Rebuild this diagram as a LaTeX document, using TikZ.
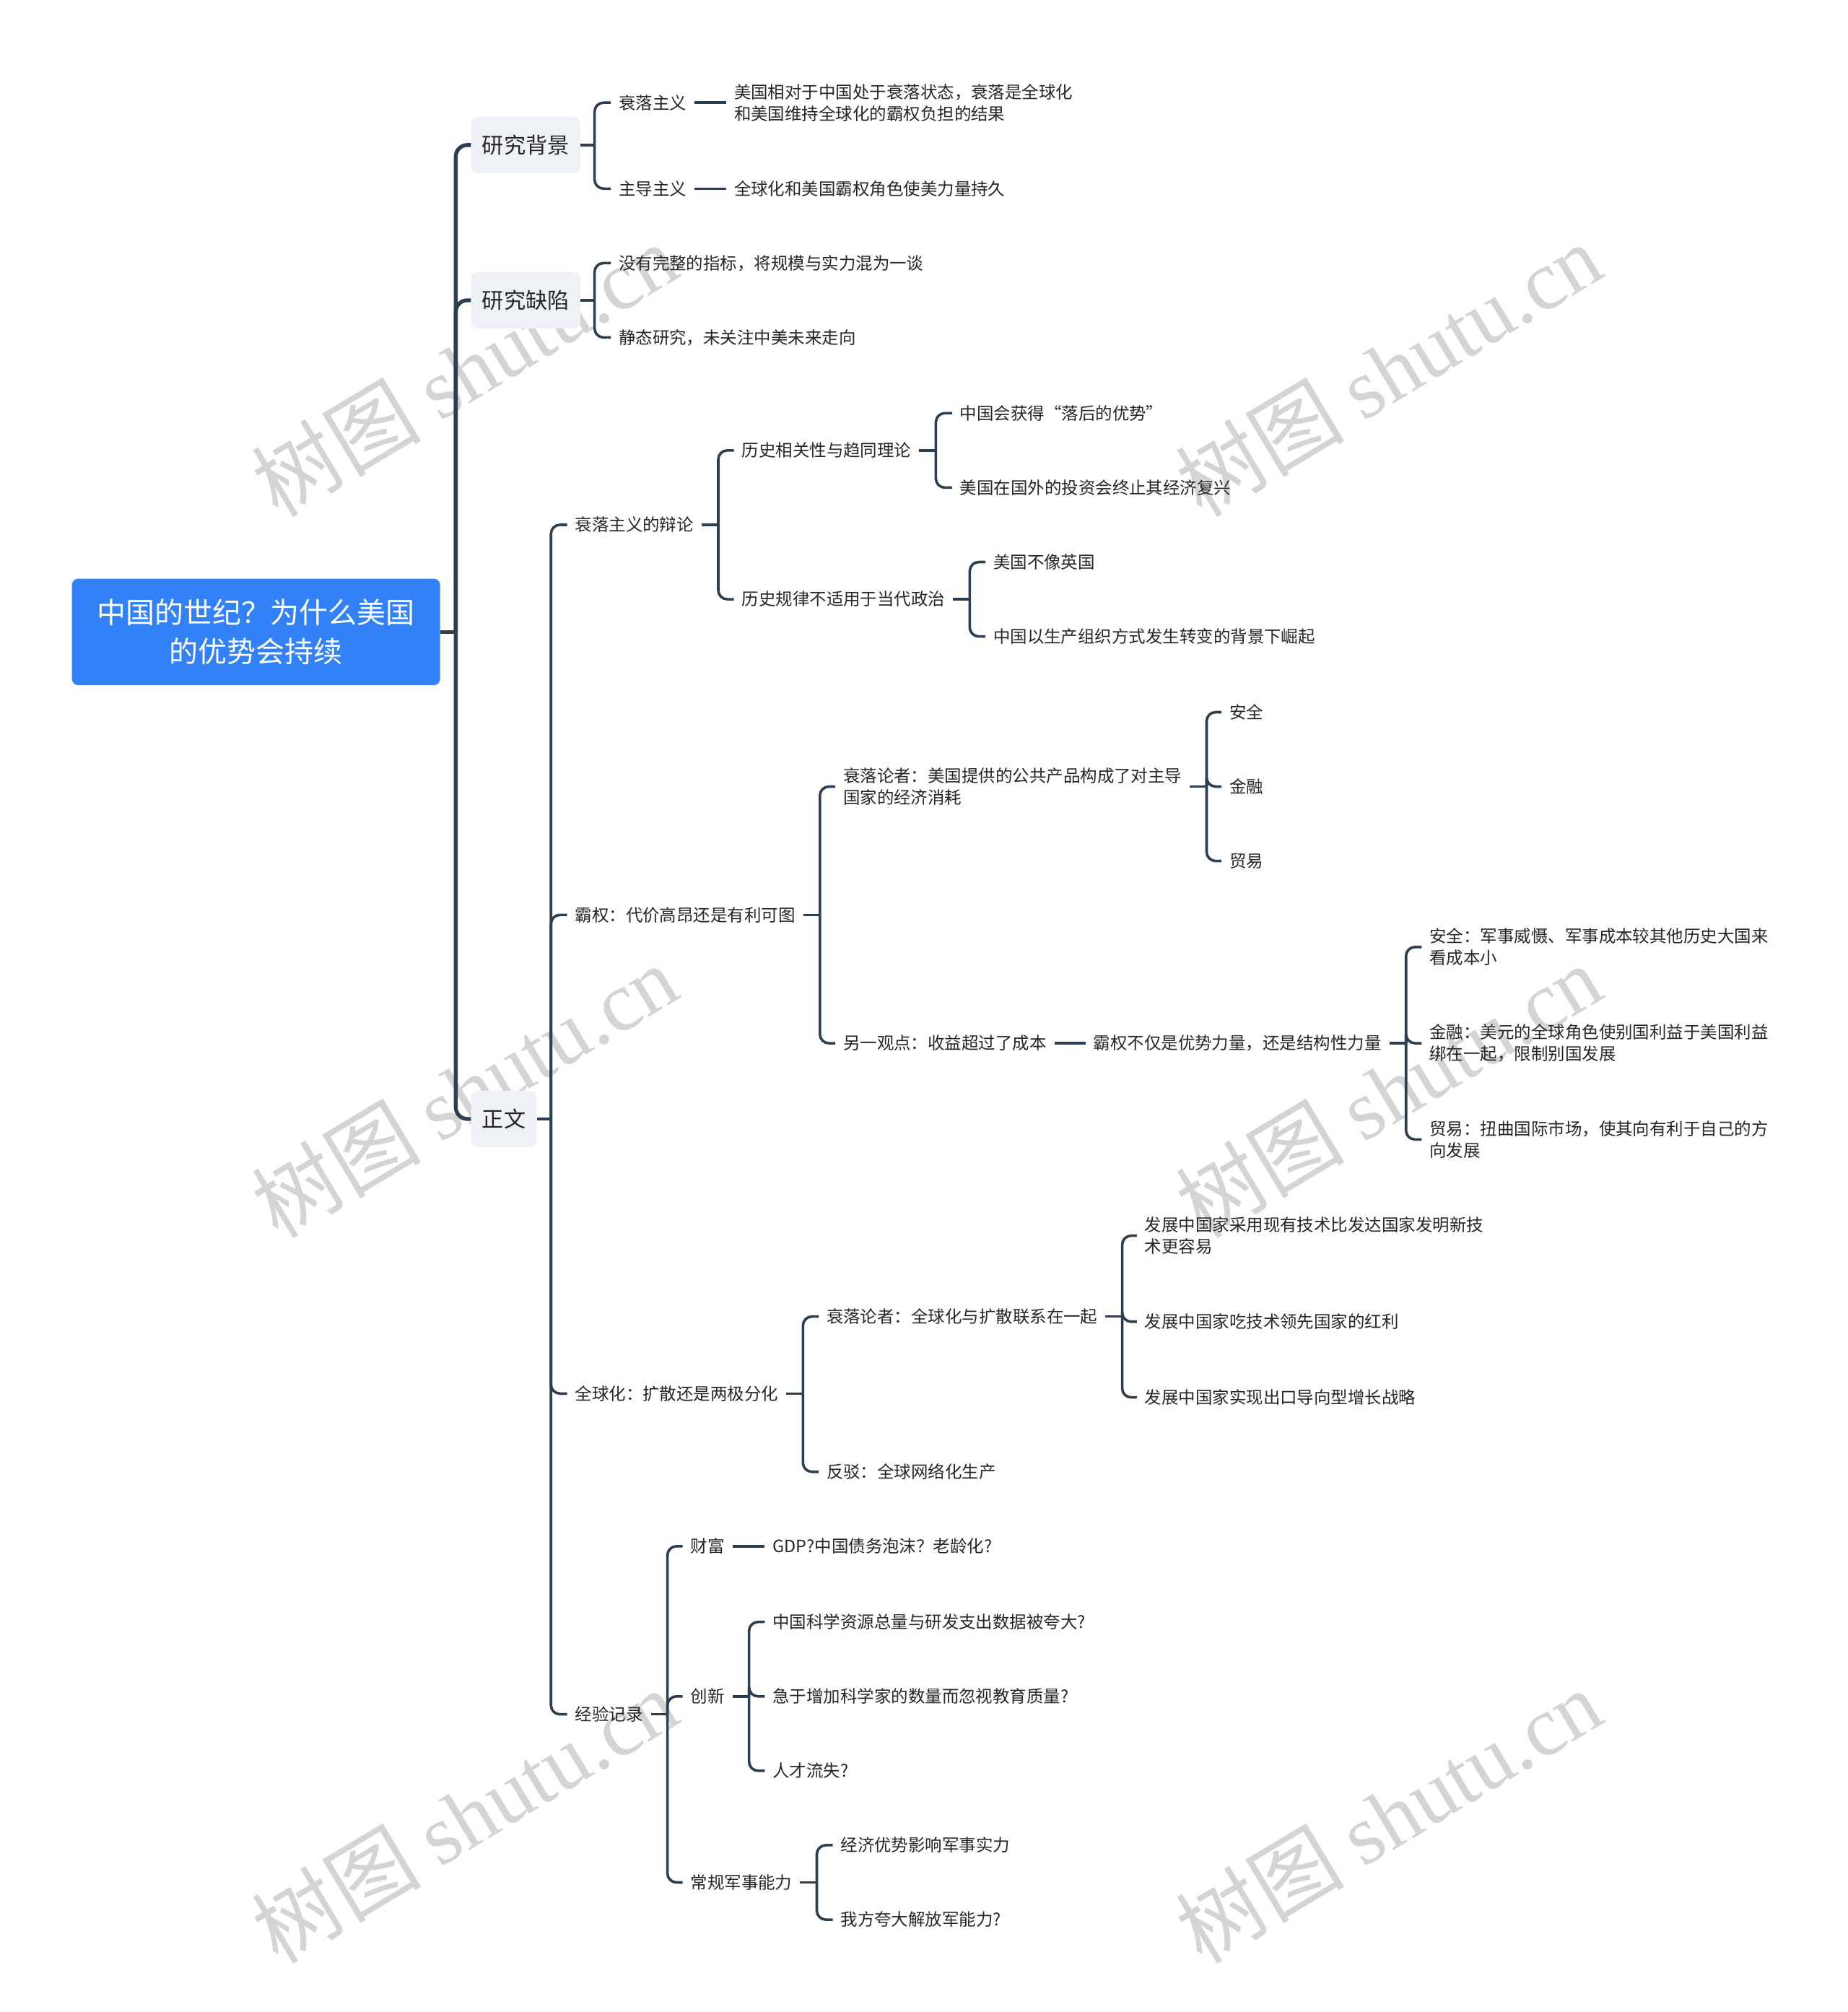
\documentclass[tikz,border=0pt]{standalone}
\usepackage{fontspec}
\setmainfont{Noto Sans CJK SC}
\newfontfamily\wmlatin{Liberation Serif}
\definecolor{linec}{HTML}{2C3E50}
\definecolor{rootblue}{HTML}{3381F6}
\definecolor{lvlgray}{HTML}{EEF1F5}
\definecolor{wmc}{HTML}{D4D4D4}
\begin{document}
\begin{tikzpicture}[x=1pt,y=-1pt,
  t/.style={anchor=west, inner xsep=6pt, inner ysep=1pt, font=\fontsize{13.2}{17}\selectfont, align=left, text=black!85},
  lone/.style={fill=lvlgray, rounded corners=5pt, inner xsep=8.5pt, minimum height=44pt, font=\fontsize{17}{20}\selectfont, text=black!85, anchor=west},
  conn/.style={draw=linec, line width=2pt, rounded corners=7pt},
  trunk/.style={draw=linec, line width=3pt, rounded corners=9pt},
  wmk/.style={text=wmc, rotate=31, font=\fontsize{66}{70}\selectfont}]
\useasboundingbox (0,0) rectangle (1440,1568);
\fill[white] (0,0) rectangle (1440,1568);

% watermarks
\node[wmk] (w1) at (362,288) {树图 {\wmlatin shutu.cn}};
\node[wmk] (w2) at (1082,288) {树图 {\wmlatin shutu.cn}};
\node[wmk] (w3) at (362,850) {树图 {\wmlatin shutu.cn}};
\node[wmk] (w4) at (1082,850) {树图 {\wmlatin shutu.cn}};
\node[wmk] (w5) at (362,1415) {树图 {\wmlatin shutu.cn}};
\node[wmk] (w6) at (1082,1415) {树图 {\wmlatin shutu.cn}};

% root
\node[fill=rootblue, rounded corners=5pt, minimum width=287pt, minimum height=83pt, align=center, text=white, font=\fontsize{22.5}{30}\selectfont] (root) at (199.5,492.5) {中国的世纪？为什么美国\\的优势会持续};

% level 1
\node[lone] (bg) at (367,113) {研究背景};
\node[lone] (qx) at (367,234) {研究缺陷};
\node[lone] (zw) at (367,872) {正文};

% level 2+
\node[t] (bg1) at (476,80) {衰落主义};
\node[t] (bg1l) at (566,80) {美国相对于中国处于衰落状态，衰落是全球化\\和美国维持全球化的霸权负担的结果};
\node[t] (bg2) at (476,147) {主导主义};
\node[t] (bg2l) at (566,147) {全球化和美国霸权角色使美力量持久};
\node[t] (qx1) at (476,205) {没有完整的指标，将规模与实力混为一谈};
\node[t] (qx2) at (476,263) {静态研究，未关注中美未来走向};

\node[t] (a) at (442,409) {衰落主义的辩论};
\node[t] (a1) at (572,351) {历史相关性与趋同理论};
\node[t] (a11) at (742,322) {中国会获得“落后的优势”};
\node[t] (a12) at (742,380) {美国在国外的投资会终止其经济复兴};
\node[t] (a2) at (572,467) {历史规律不适用于当代政治};
\node[t] (a21) at (768,438) {美国不像英国};
\node[t] (a22) at (768,496) {中国以生产组织方式发生转变的背景下崛起};

\node[t] (b) at (442,713) {霸权：代价高昂还是有利可图};
\node[t] (b1) at (651,613) {衰落论者：美国提供的公共产品构成了对主导\\国家的经济消耗};
\node[t] (b11) at (952,555) {安全};
\node[t] (b12) at (952,613) {金融};
\node[t] (b13) at (952,671) {贸易};
\node[t] (b2) at (651,813) {另一观点：收益超过了成本};
\node[t] (b21) at (846,813) {霸权不仅是优势力量，还是结构性力量};
\node[t] (b211) at (1108,738) {安全：军事威慑、军事成本较其他历史大国来\\看成本小};
\node[t] (b212) at (1108,813) {金融：美元的全球角色使别国利益于美国利益\\绑在一起，限制别国发展};
\node[t] (b213) at (1108,888) {贸易：扭曲国际市场，使其向有利于自己的方\\向发展};

\node[t] (c) at (442,1086) {全球化：扩散还是两极分化};
\node[t] (c1) at (638,1026) {衰落论者：全球化与扩散联系在一起};
\node[t] (c11) at (886,963) {发展中国家采用现有技术比发达国家发明新技\\术更容易};
\node[t] (c12) at (886,1030) {发展中国家吃技术领先国家的红利};
\node[t] (c13) at (886,1089) {发展中国家实现出口导向型增长战略};
\node[t] (c2) at (638,1147) {反驳：全球网络化生产};

\node[t] (d) at (442,1336) {经验记录};
\node[t] (d1) at (532,1205) {财富};
\node[t] (d1l) at (596,1205) {GDP?中国债务泡沫？老龄化?};
\node[t] (d2) at (532,1322) {创新};
\node[t] (d21) at (596,1264) {中国科学资源总量与研发支出数据被夸大?};
\node[t] (d22) at (596,1322) {急于增加科学家的数量而忽视教育质量?};
\node[t] (d23) at (596,1380) {人才流失?};
\node[t] (d3) at (532,1467) {常规军事能力};
\node[t] (d31) at (649,1438) {经济优势影响军事实力};
\node[t] (d32) at (649,1496) {我方夸大解放军能力?};

% junction coordinates
\coordinate (rootb) at ([xshift=12pt]root.east);
\coordinate (bgb) at ([xshift=11pt]bg.east);
\coordinate (qxb) at ([xshift=11pt]qx.east);
\coordinate (zwb) at ([xshift=11pt]zw.east);
\foreach \n in {a,a1,a2,b,b1,b21,c,c1,d,d2,d3}{
  \coordinate (\n b) at ([xshift=13pt]\n.east);
}

% trunk
\draw[trunk] (root.east) -- (rootb);
\foreach \k in {bg,qx,zw}{ \draw[trunk] (rootb) |- (\k.west); }

% connectors
\foreach \p/\kids in {bg/{bg1,bg2}, qx/{qx1,qx2}, zw/{a,b,c,d}}{
  \draw[conn] (\p.east) -- (\p b);
  \foreach \k in \kids { \draw[conn] (\p b) |- (\k.west); }
}
\foreach \p/\kids in {a/{a1,a2}, a1/{a11,a12}, a2/{a21,a22}, b/{b1,b2}, b1/{b11,b12,b13}, b21/{b211,b212,b213}, c/{c1,c2}, c1/{c11,c12,c13}, d/{d1,d2,d3}, d2/{d21,d22,d23}, d3/{d31,d32}}{
  \draw[conn] (\p.east) -- (\p b);
  \foreach \k in \kids { \draw[conn] (\p b) |- (\k.west); }
}
\draw[conn] (bg1.east) -- (bg1l.west);
\draw[conn] (bg2.east) -- (bg2l.west);
\draw[conn] (b2.east) -- (b21.west);
\draw[conn] (d1.east) -- (d1l.west);
\end{tikzpicture}
\end{document}
